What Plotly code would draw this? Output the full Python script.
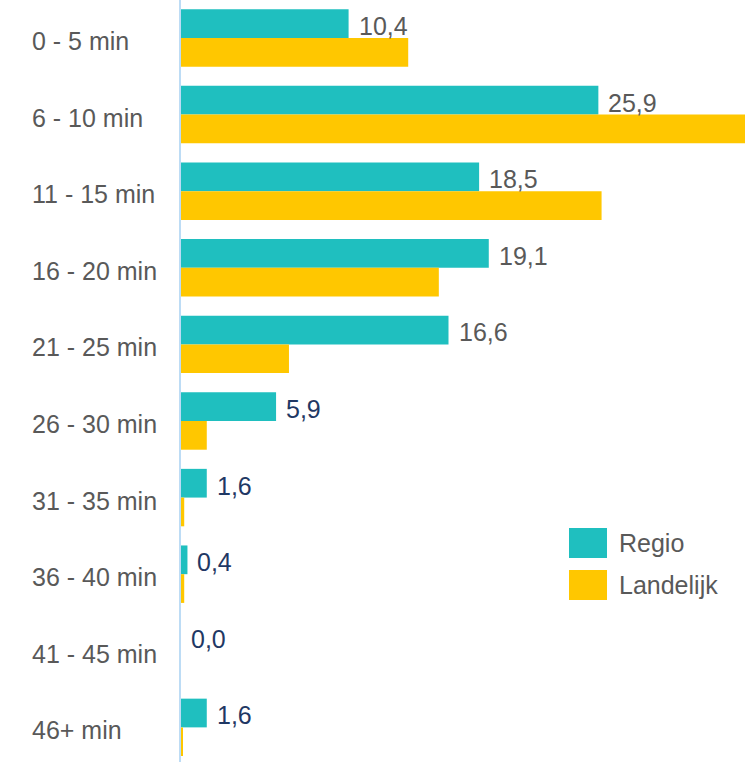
import plotly.graph_objects as go

# Travel-time bands (minutes) and share of trips per band, in percent
categories = ["0 - 5 min", "6 - 10 min", "11 - 15 min", "16 - 20 min", "21 - 25 min",
              "26 - 30 min", "31 - 35 min", "36 - 40 min", "41 - 45 min", "46+ min"]
regio = [10.4, 25.9, 18.5, 19.1, 16.6, 5.9, 1.6, 0.4, 0.0, 1.6]
landelijk = [14.1, 35.0, 26.1, 16.0, 6.7, 1.6, 0.2, 0.2, 0.0, 0.1]

TEAL = "#1FBFBF"
GOLD = "#FFC700"
GREY = "#595959"
NAVY = "#1F3864"
FONT = "Arial, Liberation Sans, sans-serif"

W, H = 745, 762
LEFT = 181

fig = go.Figure()
fig.add_trace(go.Bar(y=categories, x=regio, orientation="h", name="Regio",
                     marker=dict(color=TEAL, line=dict(width=0)), showlegend=False,
                     hoverinfo="x+y"))
fig.add_trace(go.Bar(y=categories, x=landelijk, orientation="h", name="Landelijk",
                     marker=dict(color=GOLD, line=dict(width=0)), showlegend=False,
                     hoverinfo="x+y"))

annotations = []
# Category labels, left-aligned in the margin
for cat in categories:
    annotations.append(dict(x=(30 - LEFT) / (W - LEFT), xref="paper", y=cat, yref="y",
                            text=cat, showarrow=False, xanchor="left", yanchor="middle",
                            yshift=-3, font=dict(family=FONT, size=25, color=GREY)))

# Value labels next to the Regio bars
for i, (cat, v) in enumerate(zip(categories, regio)):
    col = GREY if v >= 10 else NAVY
    annotations.append(dict(x=v, xref="x", y=cat, yref="y",
                            text=f"{v:.1f}".replace(".", ","), showarrow=False,
                            xanchor="left", yanchor="middle", xshift=8, yshift=12,
                            font=dict(family=FONT, size=25, color=col)))

# Legend drawn as swatches plus text
pw = W - LEFT
def px_x(x):
    return (x - LEFT) / pw
def px_y(y):
    return 1 - y / H

shapes = []
legend_items = [("Regio", TEAL, 528, 558), ("Landelijk", GOLD, 570, 600)]
for label, col, y0, y1 in legend_items:
    shapes.append(dict(type="rect", xref="paper", yref="paper",
                       x0=px_x(569), x1=px_x(607), y0=px_y(y1), y1=px_y(y0),
                       fillcolor=col, line=dict(width=0)))
    annotations.append(dict(x=px_x(617), xref="paper", y=px_y((y0 + y1) / 2), yref="paper",
                            text=label, showarrow=False, xanchor="left", yanchor="middle",
                            font=dict(family=FONT, size=25, color=GREY)))

fig.update_layout(
    width=W, height=H,
    margin=dict(l=LEFT, r=0, t=0, b=0),
    paper_bgcolor="white", plot_bgcolor="white",
    barmode="group", bargap=0.25, bargroupgap=0,
    font=dict(family=FONT, color=GREY),
    xaxis=dict(range=[0, 35.0], showgrid=False, zeroline=False, showticklabels=False,
               showline=False, ticks=""),
    yaxis=dict(type="category", categoryorder="array", categoryarray=categories,
               range=[9.452, -0.496], showgrid=False, zeroline=False,
               showticklabels=False, showline=True, linecolor="#BDDCF5", linewidth=2,
               ticks=""),
    shapes=shapes,
    annotations=annotations,
)

fig.write_html("out.html")
